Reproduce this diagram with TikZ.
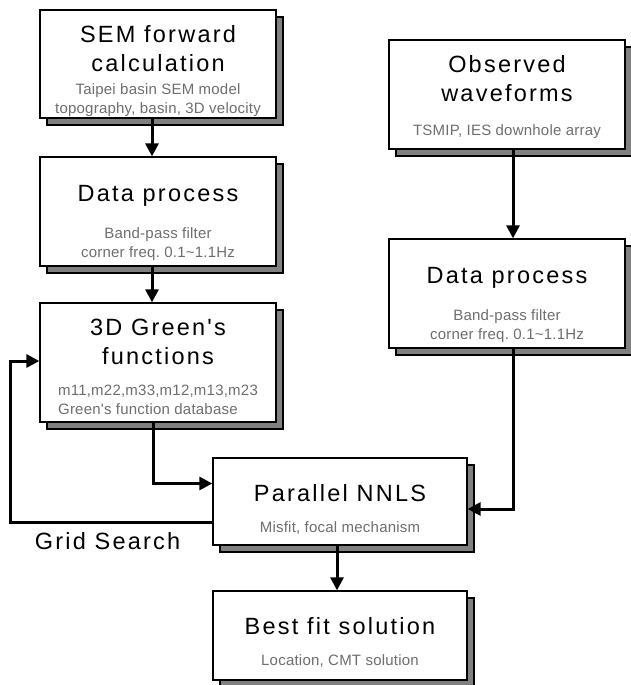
\documentclass[tikz,border=0pt]{standalone}
\usepackage{fontspec}
\setmainfont{Liberation Sans}
\newfontfamily\spacedfont[LetterSpace=9.5]{Liberation Sans}
\newfontfamily\notefont[LetterSpace=1.5]{Liberation Sans}
\usetikzlibrary{arrows.meta,shadows,calc}

\definecolor{subgray}{HTML}{6E6E6E}
\definecolor{shadowgray}{HTML}{808080}
\newcommand\ttl{\spacedfont\fontsize{23.5}{29}\selectfont\spaceskip=\fontdimen2\font\xspaceskip=\spaceskip}
\newcommand\sbt{\notefont\fontsize{15}{19}\selectfont\spaceskip=\fontdimen2\font\xspaceskip=\spaceskip\color{subgray}}

\tikzset{
    stepbox/.style={rectangle, draw=black, line width=1.3pt, fill=white,
        minimum width=236pt, text width=232pt, inner sep=0pt, align=center,
        general shadow={shadow xshift=7pt, shadow yshift=-7pt,
            fill=shadowgray, draw=black, line width=1.3pt}},
    flow/.style={line width=3pt, -{Triangle[length=13pt,width=13pt]}}
}

\begin{document}
\begin{tikzpicture}[x=1pt, y=-1pt]
    \useasboundingbox (0,0) rectangle (630,685);
    % left column
    \node[stepbox, minimum height=108pt] (sem) at (158,64)
        {\par\vspace*{2.8pt}{\ttl SEM forward\\calculation\par}\vspace{4pt}
         {\sbt Taipei basin SEM model\\topography, basin, 3D velocity\par}};
    \node[stepbox, minimum height=109pt] (datl) at (158,211.5)
        {\par\vspace*{10.2pt}{\ttl Data process\par}\vspace{18pt}
         {\sbt Band-pass filter\\corner freq. 0.1\textasciitilde1.1Hz\par}};
    \node[stepbox, minimum height=119pt] (green) at (158,362.5)
        {\par\vspace*{1.6pt}{\ttl 3D Green's\\functions\par}\vspace{12pt}
         {\sbt\begin{tabular}[t]{@{}l@{}}m11,m22,m33,m12,m13,m23\\Green's function database\end{tabular}\par}};
    % right column
    \node[stepbox, minimum height=109pt] (obs) at (507,94.5)
        {\par\vspace*{-6.2pt}{\ttl Observed\\waveforms\par}\vspace{15pt}
         {\sbt TSMIP, IES downhole array\par}};
    \node[stepbox, minimum height=109pt] (datr) at (507,293.5)
        {\par\vspace*{10.2pt}{\ttl Data process\par}\vspace{18pt}
         {\sbt Band-pass filter\\corner freq. 0.1\textasciitilde1.1Hz\par}};
    % bottom
    \node[stepbox, minimum width=254pt, text width=250pt, minimum height=87pt] (nnls) at (340,501.5)
        {\par\vspace*{4.4pt}{\ttl Parallel NNLS\par}\vspace{12pt}
         {\sbt Misfit, focal mechanism\par}};
    \node[stepbox, minimum width=254pt, text width=250pt, minimum height=89pt] (best) at (340,635.5)
        {\par\vspace*{2.4pt}{\ttl Best fit solution\par}\vspace{12pt}
         {\sbt Location, CMT solution\par}};
    \node[anchor=base, inner sep=0pt] (gridlbl) at (107.5,549) {\ttl Grid Search};
    \coordinate (loop) at (10,361);

    \draw[flow] ([xshift=-6pt]sem.south) -- ([xshift=-6pt]datl.north);
    \draw[flow] ([xshift=-6pt]datl.south) -- ([xshift=-6pt]green.north);
    \draw[flow] ([xshift=6pt]obs.south) -- ([xshift=6pt]datr.north);
    \draw[flow] ([xshift=-5pt]green.south) |- ([yshift=18pt]nnls.west);
    \draw[flow] ([xshift=6pt]datr.south) |- ([yshift=-7.5pt]nnls.east);
    \draw[flow] ([yshift=-20.5pt]nnls.west) -| (loop) -- (green.west |- loop);
    \draw[flow] ([xshift=-3pt]nnls.south) -- ([xshift=-3pt]best.north);
\end{tikzpicture}
\end{document}
